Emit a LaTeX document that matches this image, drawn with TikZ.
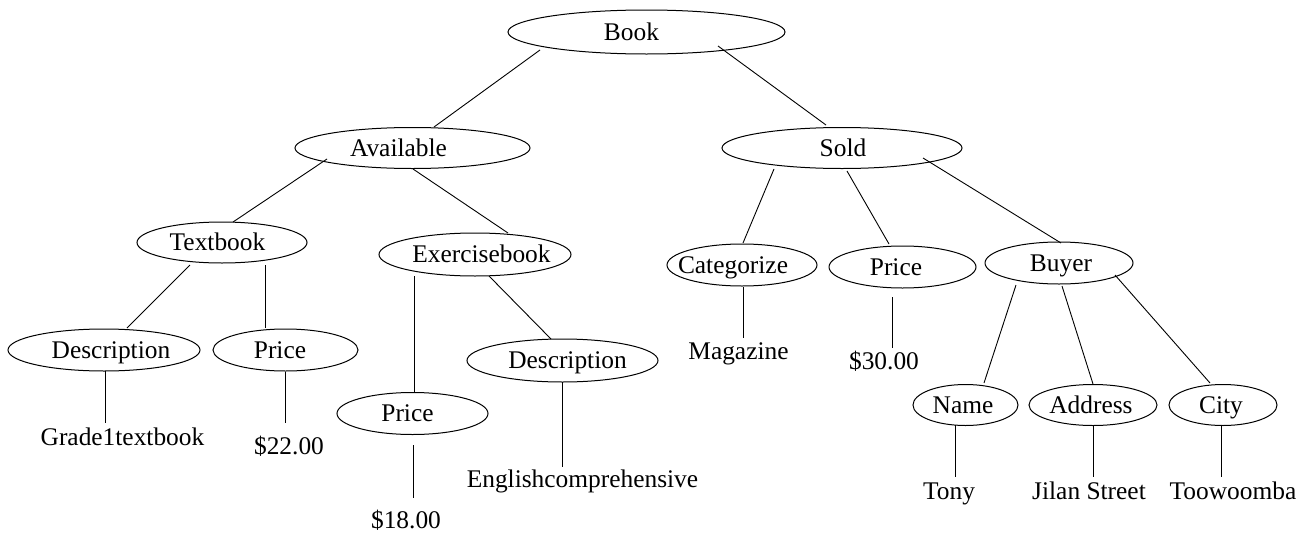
\documentclass[tikz,border=0pt]{standalone}
\usepackage{fontspec}
\setmainfont{Liberation Serif}
\usetikzlibrary{shapes.geometric}

\tikzset{
  txt/.style={font=\fontsize{25.4}{30}\selectfont, inner sep=0pt},
  captxt/.style={txt, text height=16.8pt, text depth=0pt},
  % #1 width, #2 height, #3 horizontal text offset, #4 text
  oval/.style n args={4}{ellipse, draw, line width=1pt, inner sep=0pt,
    minimum width=#1, minimum height=#2,
    label={[captxt, xshift=#3pt]center:#4}},
  leaf/.style={txt, anchor=base},
  link/.style={line width=0.9pt}
}

\begin{document}
\begin{tikzpicture}[x=1pt, y=-1pt]
\useasboundingbox (0,0) rectangle (1307,533);

% ---- element nodes ----
\node[oval={277pt}{44pt}{-15}{Book}]          (book)  at (646.5,32)  {};
\node[oval={235pt}{41pt}{-14}{Available}]     (avail) at (412.5,148) {};
\node[oval={240pt}{41pt}{1}{Sold}]            (sold)  at (842,148)   {};
\node[oval={170pt}{41pt}{-4.5}{Textbook}]     (textb) at (222,242.5) {};
\node[oval={192pt}{43pt}{6.5}{Exercisebook}]  (exerb) at (475,254.5) {};
\node[oval={150pt}{42pt}{-9}{Categorize}]     (categ) at (742,265)   {};
\node[oval={147pt}{42pt}{-6.5}{Price}]        (prices) at (902.5,267) {};
\node[oval={148pt}{42pt}{2}{Buyer}]           (buyer) at (1059,263)  {};
\node[oval={192pt}{42pt}{7}{Description}]     (descl) at (104,350)   {};
\node[oval={145pt}{42pt}{-5.5}{Price}]        (pricel) at (285.5,350) {};
\node[oval={191pt}{43pt}{5}{Description}]     (desce) at (562.5,360.5) {};
\node[oval={151pt}{42pt}{-5}{Price}]          (pricee) at (412.5,413.5) {};
\node[oval={105pt}{41pt}{-2.5}{Name}]         (name)  at (965.5,405) {};
\node[oval={128pt}{41pt}{-2}{Address}]        (addr)  at (1093,405)  {};
\node[oval={108pt}{41pt}{-2}{City}]           (city)  at (1223,405)  {};

% ---- text values ----
\node[leaf] (vgrade) at (122.5,445) {Grade1textbook};
\node[leaf] (v22)    at (289,454)   {\$22.00};
\node[leaf] (v18)    at (406,528)   {\$18.00};
\node[leaf] (veng)   at (582.5,487) {Englishcomprehensive};
\node[leaf] (vmag)   at (738.5,359) {Magazine};
\node[leaf] (v30)    at (884,369)   {\$30.00};
\node[leaf] (vtony)  at (949,499)   {Tony};
\node[leaf] (vjilan) at (1089,499)  {Jilan Street};
\node[leaf] (vtoow)  at (1233,499)  {Toowoomba};

% ---- connector end points ----
\coordinate (book-l)  at (540,50);   \coordinate (avail-t) at (434,127);
\coordinate (book-r)  at (718,46);   \coordinate (sold-t)  at (826,125);
\coordinate (avail-l) at (327,159);  \coordinate (textb-t) at (233,222);
\coordinate (avail-r) at (413,169);  \coordinate (exerb-t) at (508,233);
\coordinate (sold-l)  at (774,169);  \coordinate (categ-t) at (743,243);
\coordinate (sold-m)  at (847,171);  \coordinate (prices-t) at (889,244);
\coordinate (sold-r)  at (923,158);  \coordinate (buyer-t) at (1061,243);
\coordinate (textb-l) at (190,265);  \coordinate (descl-t) at (127,328);
\coordinate (textb-r) at (265,265);  \coordinate (pricel-t) at (265,328);
\coordinate (exerb-l) at (414,276);  \coordinate (pricee-t) at (414,392);
\coordinate (exerb-r) at (489,276);  \coordinate (desce-t) at (551,339);
\coordinate (buyer-l) at (1016,285); \coordinate (name-t)  at (984,383);
\coordinate (buyer-m) at (1062,286); \coordinate (addr-t)  at (1093,384);
\coordinate (buyer-r) at (1115,275); \coordinate (city-t)  at (1210,383);

\coordinate (descl-b)  at (105,371);  \coordinate (vgrade-t) at (105,423);
\coordinate (pricel-b) at (285,372);  \coordinate (v22-t)    at (285,423);
\coordinate (pricee-b) at (413,445);  \coordinate (v18-t)    at (413,498);
\coordinate (desce-b)  at (562,382);  \coordinate (veng-t)   at (562,467);
\coordinate (categ-b)  at (743,287);  \coordinate (vmag-t)   at (743,338);
\coordinate (prices-b) at (892,297);  \coordinate (v30-t)    at (892,348);
\coordinate (name-b)   at (955,425);  \coordinate (vtony-t)  at (955,477);
\coordinate (addr-b)   at (1093,425); \coordinate (vjilan-t) at (1093,477);
\coordinate (city-b)   at (1221,425); \coordinate (vtoow-t)  at (1221,477);

% ---- connectors ----
\draw[link] (book-l) -- (avail-t);
\draw[link] (book-r) -- (sold-t);
\draw[link] (avail-l) -- (textb-t);
\draw[link] (avail-r) -- (exerb-t);
\draw[link] (sold-l) -- (categ-t);
\draw[link] (sold-m) -- (prices-t);
\draw[link] (sold-r) -- (buyer-t);
\draw[link] (textb-l) -- (descl-t);
\draw[link] (textb-r) -- (pricel-t);
\draw[link] (exerb-l) -- (pricee-t);
\draw[link] (exerb-r) -- (desce-t);
\draw[link] (buyer-l) -- (name-t);
\draw[link] (buyer-m) -- (addr-t);
\draw[link] (buyer-r) -- (city-t);

\draw[link] (descl-b) -- (vgrade-t);
\draw[link] (pricel-b) -- (v22-t);
\draw[link] (pricee-b) -- (v18-t);
\draw[link] (desce-b) -- (veng-t);
\draw[link] (categ-b) -- (vmag-t);
\draw[link] (prices-b) -- (v30-t);
\draw[link] (name-b) -- (vtony-t);
\draw[link] (addr-b) -- (vjilan-t);
\draw[link] (city-b) -- (vtoow-t);
\end{tikzpicture}
\end{document}
